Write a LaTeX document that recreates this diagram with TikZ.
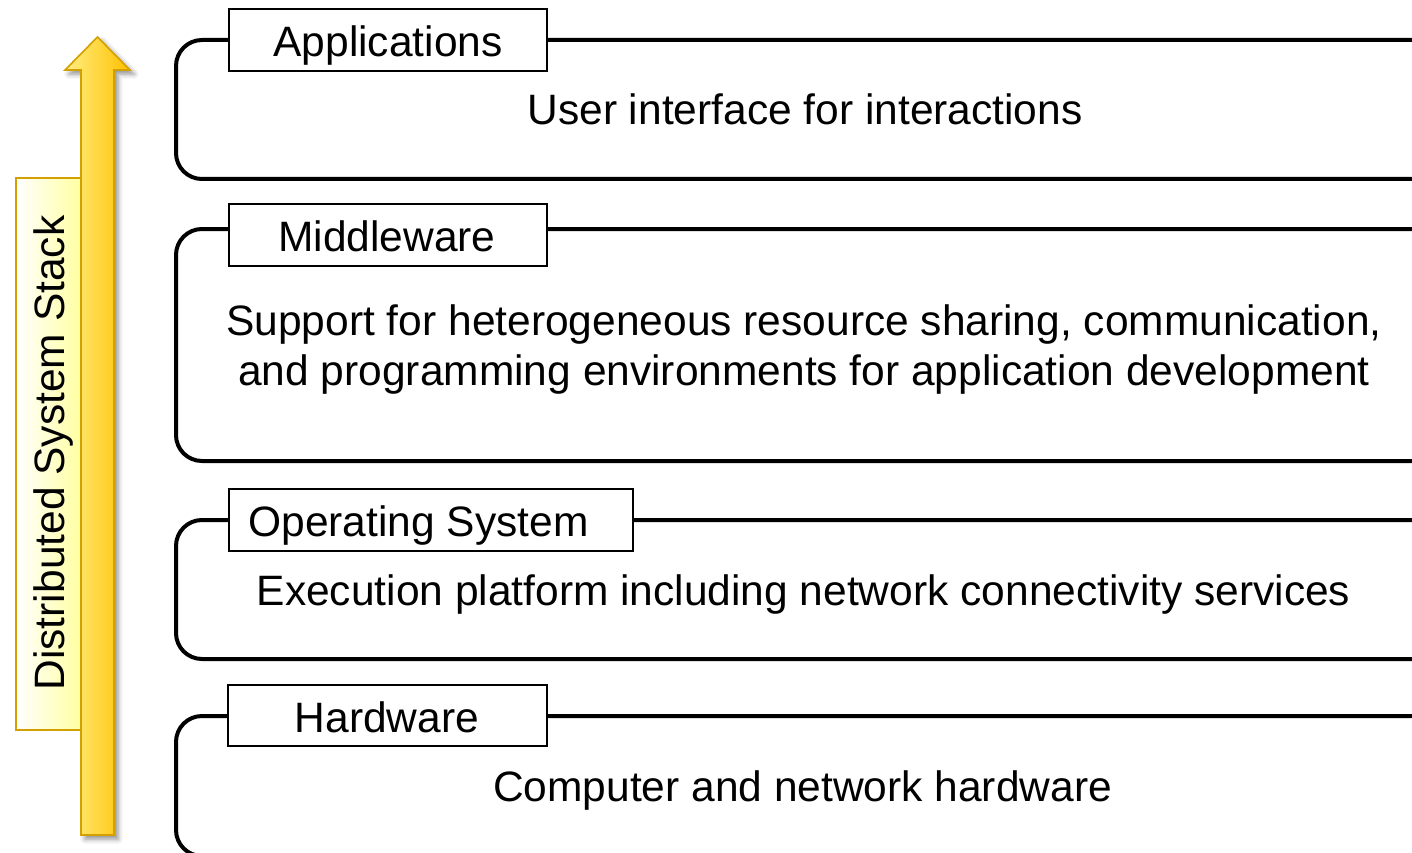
\documentclass[tikz,border=0pt]{standalone}
\usepackage{fontspec}
\setmainfont{Liberation Sans}
\usetikzlibrary{shadows.blur}
\definecolor{gold}{RGB}{212,160,0}
\definecolor{shaftL}{RGB}{255,238,130}
\definecolor{shaftR}{RGB}{255,192,0}
\definecolor{paleY}{RGB}{255,255,160}
\tikzset{
  layer/.style={draw=black, line width=4pt, rounded corners=26pt, fill=white, inner sep=0pt},
  tag/.style={draw=black, line width=1.6pt, fill=white, inner sep=0pt, minimum height=62pt},
  txt/.style={inner sep=0pt, anchor=base, font=\fontsize{42.5}{50}\selectfont},
}
\begin{document}
\begin{tikzpicture}[x=1pt, y=-1pt]
\useasboundingbox (0,0) rectangle (1412,853);
\clip (0,0) rectangle (1412,853);

% stack caption box
\node[draw=gold, line width=1.6pt, left color=white, right color=paleY, inner sep=0pt,
      minimum width=66pt, minimum height=552pt, anchor=north west] (cap) at (15,177) {};
\node[txt, rotate=90] (captext) at (64,453) {Distributed System Stack};

% upward arrow
\path[draw=gold, line width=1.6pt, left color=shaftL, right color=shaftR,
      blur shadow={shadow xshift=4pt, shadow yshift=-4pt, shadow blur radius=5pt, shadow opacity=45}]
  (81,835) -- (81,70) -- (65,70) -- (97.5,37) -- (130,70) -- (114,70) -- (114,835) -- cycle;

% layers
\node[layer, minimum width=1274pt, minimum height=139pt] (app) at (813,109.5) {};
\node[layer, minimum width=1274pt, minimum height=232pt] (mid) at (813,345) {};
\node[layer, minimum width=1274pt, minimum height=139pt] (os)  at (813,589.5) {};
\node[layer, minimum width=1274pt, minimum height=140pt] (hw)  at (813,786) {};

% layer title boxes
\node[tag, minimum width=318pt] (appT) at (388,40)  {};
\node[tag, minimum width=318pt] (midT) at (388,235) {};
\node[tag, minimum width=404pt] (osT)  at (431,520) {};
\node[tag, minimum width=319pt, minimum height=61pt] (hwT) at (387.5,715.5) {};

% layer titles
\node[txt] (appN) at (388,56.5)  {Applications};
\node[txt] (midN) at (387,251.5) {Middleware};
\node[txt] (osN)  at (418.5,536.5) {Operating System};
\node[txt] (hwN)  at (387,732)   {Hardware};

% layer descriptions
\node[txt] (appD)  at (805,125)   {User interface for interactions};
\node[txt] (midD1) at (804,335)   {Support for heterogeneous resource sharing, communication,};
\node[txt] (midD2) at (804,385)   {and programming environments for application development};
\node[txt] (osD)   at (803.5,605) {Execution platform including network connectivity services};
\node[txt] (hwD)   at (802.5,801) {Computer and network hardware};
\end{tikzpicture}
\end{document}
